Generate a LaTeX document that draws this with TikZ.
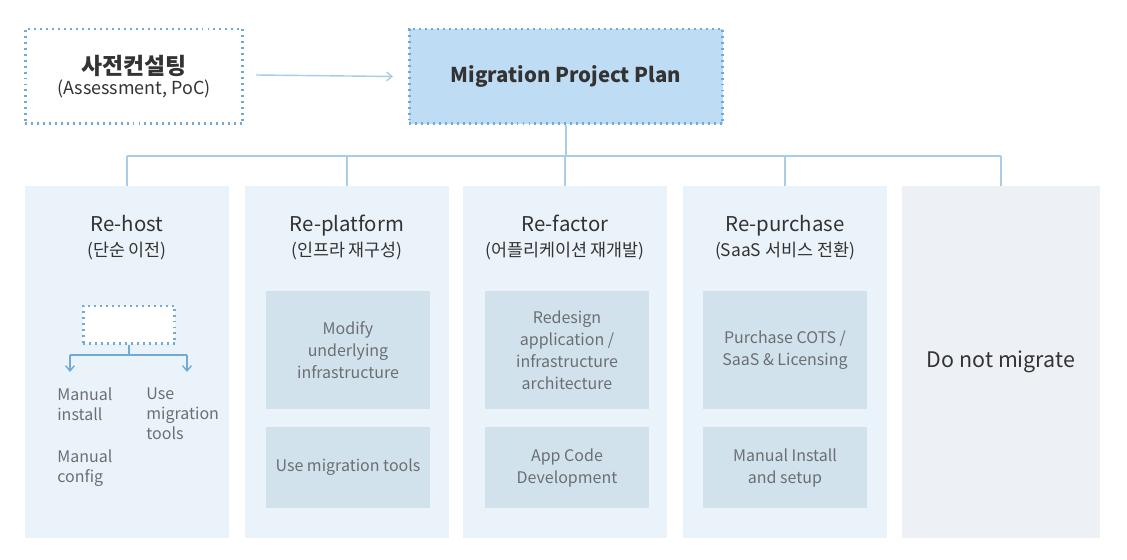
\documentclass[tikz,border=0pt]{standalone}
\usepackage{fontspec}
\setmainfont{Noto Sans CJK KR}
\usetikzlibrary{arrows.meta}

\definecolor{dotblue}{HTML}{70AAD7}
\definecolor{lineblue}{HTML}{A9CDE6}
\definecolor{planfill}{HTML}{BEDCF3}
\definecolor{colfill}{HTML}{EBF3FA}
\definecolor{grayfill}{HTML}{EDF0F4}
\definecolor{boxfill}{HTML}{D2E2EC}
\definecolor{txtdark}{HTML}{333333}
\definecolor{txtgray}{HTML}{6B6F73}

\begin{document}
\begin{tikzpicture}[x=0.02cm,y=-0.02cm]
    \tikzstyle{dotbox}=[draw=dotblue,line width=1.7pt,dash pattern=on 1.1pt off 2.3pt,inner sep=0pt,align=center,text=txtdark]
    \tikzstyle{column}=[fill=colfill,minimum width=4.08cm,minimum height=7.04cm,inner sep=0pt]
    \tikzstyle{task}=[fill=boxfill,minimum width=3.28cm,inner sep=0pt,align=center,text=txtgray,font=\fontsize{9.1}{12.5}\selectfont]
    \tikzstyle{head}=[anchor=base,inner sep=0pt,text=txtdark,font=\fontsize{11.6}{14}\selectfont]
    \tikzstyle{subhead}=[anchor=base,inner sep=0pt,text=txtdark,font=\fontsize{9.9}{12}\selectfont]
    \tikzstyle{link}=[draw=lineblue,line width=0.8pt]
    \tikzstyle{note}=[anchor=north west,align=left,inner sep=0pt,text=txtgray,font=\fontsize{9.1}{11.5}\selectfont]

    \useasboundingbox[fill=white] (0,0) rectangle (1127,560);

    % top row
    \node[dotbox,minimum width=4.36cm,minimum height=1.9cm] (assess) at (134,76.5)
        {{\fontsize{13}{16}\selectfont\bfseries 사전컨설팅}\\[-1pt]{\fontsize{10.2}{12}\selectfont (Assessment, PoC)}};
    \node[dotbox,fill=planfill,minimum width=6.28cm,minimum height=1.9cm] (plan) at (566,76.5)
        {\fontsize{11.6}{14}\selectfont\bfseries Migration Project Plan};
    \draw[link,-{Straight Barb[length=3pt,width=5pt]}] (256,75) -- (plan.west -| 393,0);

    % columns
    \foreach \name/\x in {host/127, platform/347, factor/565, purchase/785}
        \node[column] (col-\name) at (\x,362) {};
    \node[column,fill=grayfill,minimum width=3.96cm] (col-none) at (1001,362)
        {\fontsize{12.2}{15}\selectfont\color{txtdark}Do not migrate};

    % tree
    \coordinate (bus) at (566,156);
    \draw[link] (plan.south) -- (bus);
    \draw[link] (col-host.north |- bus) -- (col-none.north |- bus);
    \foreach \name in {host, platform, factor, purchase, none}
        \draw[link] (col-\name.north |- bus) -- (col-\name.north);

    % titles
    \foreach \name/\title/\sub in {host/Re-host/(단순 이전), platform/Re-platform/(인프라 재구성),
            factor/Re-factor/(어플리케이션 재개발), purchase/Re-purchase/(SaaS 서비스 전환)}
    {
        \node[head] (title-\name) at (col-\name.north |- 0,232) {\title};
        \node[subhead] (sub-\name) at (col-\name.north |- 0,257) {\sub};
    }

    % task boxes
    \node[task,minimum height=2.36cm] (platform-a) at (348,350) {Modify\\underlying\\infrastructure};
    \node[task,minimum height=1.62cm] (platform-b) at (348,467.5) {Use migration tools};
    \node[task,minimum height=2.36cm] (factor-a) at (567,350) {Redesign\\application /\\infrastructure\\architecture};
    \node[task,minimum height=1.62cm] (factor-b) at (567,467.5) {App Code\\Development};
    \node[task,minimum height=2.36cm] (purchase-a) at (785,350) {Purchase COTS /\\SaaS \& Licensing};
    \node[task,minimum height=1.62cm] (purchase-b) at (785,467.5) {Manual Install\\and setup};

    % re-host split
    \node[dotbox,fill=white,minimum width=1.84cm,minimum height=0.76cm] (tool) at (129,325) {};
    \coordinate (split) at (129,355);
    \coordinate (left) at (70,355);
    \coordinate (right) at (187,355);
    \draw[link,draw=dotblue] (tool.south) -- (split);
    \draw[link,draw=dotblue] (left) -- (right);
    \draw[link,draw=dotblue,-{Straight Barb[length=3pt,width=5pt]}] (left) -- (70,372);
    \draw[link,draw=dotblue,-{Straight Barb[length=3pt,width=5pt]}] (right) -- (187,372);
    \node[note] (install) at (57,387) {Manual\\install};
    \node[note] (tools) at (146,387) {Use\\migration\\tools};
    \node[note] (config) at (57,449) {Manual\\config};
\end{tikzpicture}
\end{document}
